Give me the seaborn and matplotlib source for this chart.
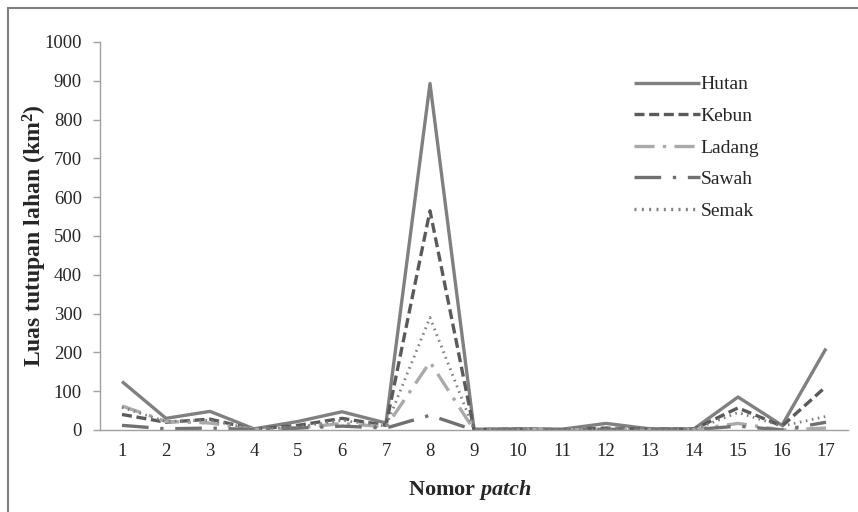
import numpy as np
import pandas as pd
import matplotlib
matplotlib.use("Agg")
import matplotlib.pyplot as plt
from matplotlib.lines import Line2D
import seaborn as sns

patch = list(range(1, 18))
hutan = [125, 30, 48, 3, 22, 47, 18, 893, 2, 3, 2, 17, 3, 3, 85, 12, 210]
kebun = [40, 20, 28, 2, 12, 30, 12, 565, 1, 2, 1, 5, 2, 2, 57, 10, 112]
ladang = [62, 22, 18, 2, 5, 17, 8, 175, 0, 1, 1, 2, 1, 1, 17, 0, 5]
sawah = [12, 3, 5, 1, 5, 10, 5, 38, 0, 1, 1, 1, 1, 1, 10, 0, 20]
semak = [58, 22, 25, 2, 8, 25, 10, 290, 1, 4, 1, 3, 1, 1, 45, 10, 35]

series = {"Hutan": hutan, "Kebun": kebun, "Ladang": ladang, "Sawah": sawah, "Semak": semak}
styles = {
    "Hutan": dict(color="#808080", dashes=None, lw=2.4),
    "Kebun": dict(color="#5a5a5a", dashes=(3.0, 1.4), lw=2.4),
    "Ladang": dict(color="#aaaaaa", dashes=(6, 2.5, 1, 2.5), lw=2.4),
    "Sawah": dict(color="#707070", dashes=(8, 3.5, 1, 3.5), lw=2.4),
    "Semak": dict(color="#808080", dashes=(0.6, 1.6), lw=2.0),
}

sns.set_style("white")
plt.rcParams["font.family"] = ["Liberation Serif", "DejaVu Serif"]
plt.rcParams["mathtext.fontset"] = "custom"
plt.rcParams["mathtext.rm"] = "Liberation Serif:bold"
plt.rcParams["mathtext.it"] = "Liberation Serif:italic:bold"
plt.rcParams["mathtext.bf"] = "Liberation Serif:bold"

fig = plt.figure(figsize=(8.58, 5.12), dpi=100)
ax = fig.add_axes([100 / 858, 1 - 430 / 512, 748 / 858, 388 / 512])

for name, vals in series.items():
    st = styles[name]
    df = pd.DataFrame({"patch": patch, "luas": vals})
    sns.lineplot(data=df, x="patch", y="luas", ax=ax, color=st["color"],
                 lw=st["lw"], label=name)
    ln = ax.get_lines()[-1]
    if st["dashes"] is not None:
        ln.set_dashes(st["dashes"])
    ln.set_solid_capstyle("butt")

ax.set_xlim(0.5, 17.5)
ax.set_ylim(0, 1000)
ax.set_yticks(np.arange(0, 1001, 100))
ax.set_xticks(patch)
ax.set_xticks(np.arange(0.5, 18, 1), minor=True)
ax.tick_params(axis="x", which="major", length=0, labelsize=13.5, pad=9)
ax.tick_params(axis="x", which="minor", length=5, color="#a0a0a0", width=1, direction="out")
ax.tick_params(axis="y", length=5, color="#a0a0a0", width=1, direction="out", labelsize=13.5, pad=8)
ax.tick_params(left=True, bottom=True)

for side in ["top", "right"]:
    ax.spines[side].set_visible(False)
for side in ["left", "bottom"]:
    ax.spines[side].set_color("#a0a0a0")
    ax.spines[side].set_linewidth(1)

ax.set_xlabel("Nomor $\\mathit{patch}$", fontsize=16, fontweight="bold")
ax.set_ylabel("Luas tutupan lahan (km$^2$)", fontsize=17, fontweight="bold")
ax.xaxis.set_label_coords(0.495, -0.155)
ax.yaxis.set_label_coords(-0.087, 0.5)
ax.xaxis.label.set_va("center")
ax.yaxis.label.set_va("center")

leg = ax.legend(loc="upper left", bbox_to_anchor=(0.69, 0.958), frameon=False, fontsize=14,
                handlelength=3.4, handletextpad=0.05, labelspacing=0.72)
for h in leg.get_lines():
    h.set_linewidth(2.4)

fig.add_artist(Line2D([8 / 858, 8 / 858], [0, 1 - 8 / 512], color="#808080", lw=1.5))
fig.add_artist(Line2D([8 / 858, 1], [1 - 8 / 512, 1 - 8 / 512], color="#808080", lw=1.5))

fig.savefig("out.png", dpi=100)
